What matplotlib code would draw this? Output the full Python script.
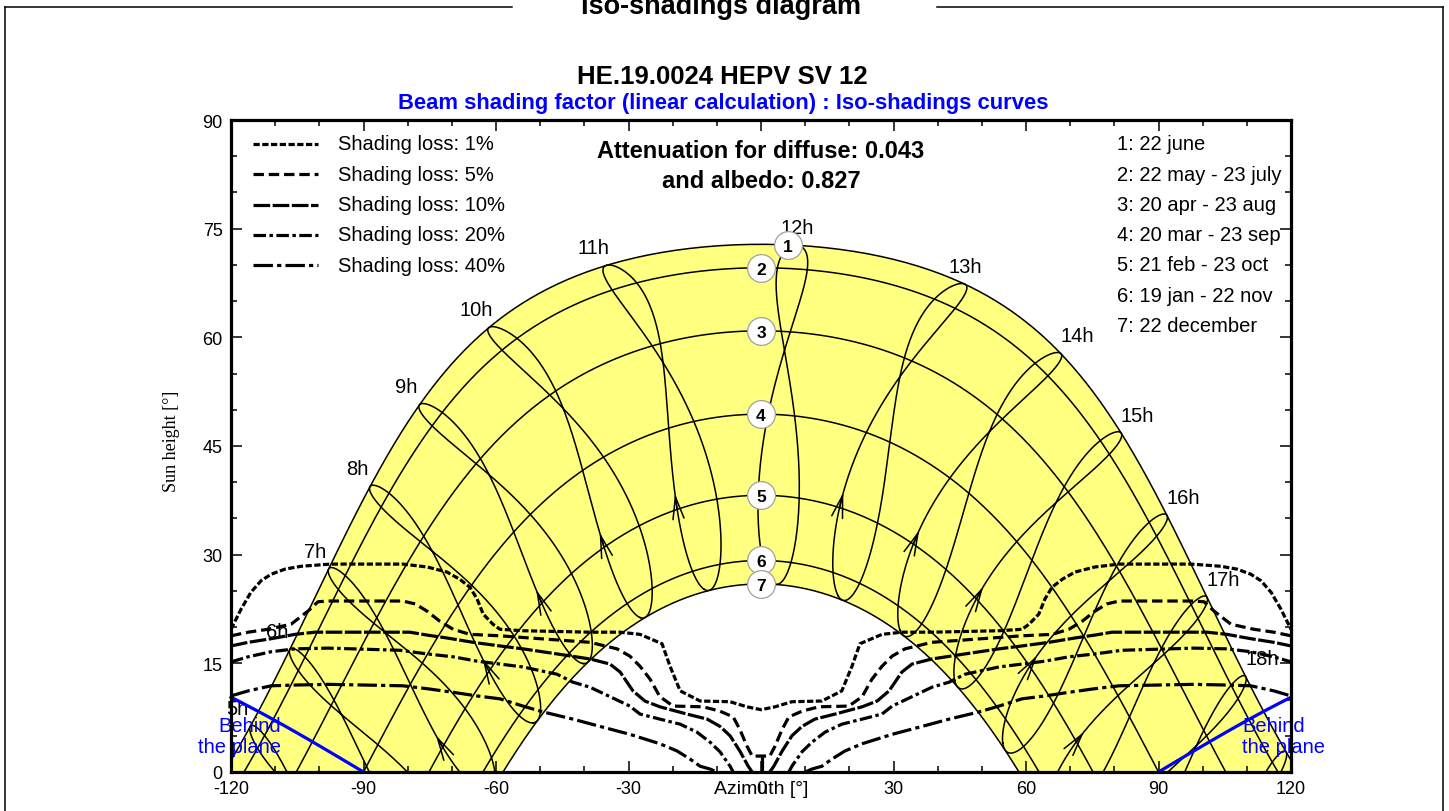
"""Iso-shadings diagram: sun paths (date lines + hour analemmas) with
iso-loss curves of the beam shading factor drawn on top."""
import numpy as np
import matplotlib
matplotlib.use('Agg')
import matplotlib.pyplot as plt
from matplotlib.lines import Line2D

plt.rcParams['font.family'] = ['Liberation Sans', 'DejaVu Sans']
plt.rcParams['lines.scale_dashes'] = False
plt.rcParams['axes.unicode_minus'] = False

W, H = 1449, 812

# ---- site / sun path ----
LAT = 40.6           # site latitude [deg N]
LON_SHIFT = 3.0      # site east of time-zone meridian [deg]
PLANE_TILT = 20.0    # tilt of the collector plane [deg]

DATE_NAMES = ['22 june', '22 may - 23 july', '20 apr - 23 aug',
              '20 mar - 23 sep', '21 feb - 23 oct', '19 jan - 22 nov',
              '22 december']
DATE_DECL = [23.44, 20.2, 11.5, 0.0, -11.2, -20.2, -23.44]
DATE_MARK_AZ = [6.1, 0, 0, 0, 0, 0, 0]
HOURS = list(range(5, 20))
ARROW_DAY = 57       # direction marks on the hour lines (26 feb)

# ---- iso-shading curves, east half (west half is its mirror) ----
LOSS_NAMES = ['Shading loss: 1%', 'Shading loss: 5%', 'Shading loss: 10%',
              'Shading loss: 20%', 'Shading loss: 40%']

LOSS1_AZ = [-120, -117.7, -115.5, -113.2, -110.9, -107.8, -104.1, -97.4, -81.1,
            -75.6, -71.1, -68.2, -65.9, -64.3, -62.9, -60.7, -59.1, -53.9, -38.7,
            -31.9, -27.4, -22.4, -20.6, -18.3, -13.8, -7.0, -3.2, 0]
LOSS1_EL = [19.7, 22.5, 24.8, 26.4, 27.3, 28.0, 28.4, 28.7, 28.7,
            28.3, 27.6, 26.6, 25.5, 23.9, 21.8, 20.4, 19.7, 19.5, 19.3,
            19.3, 19.0, 17.7, 14.6, 11.2, 9.8, 9.7, 9.0, 8.6]

LOSS5_AZ = [-120, -116.1, -111.6, -106.4, -102.6, -100.3, -98.0, -81.1, -78.3,
            -75.6, -72.7, -69.7, -65.9, -59.1, -38.7, -32.6, -29.7, -27.4, -25.1,
            -22.9, -19.9, -13.1, -9.3, -6.3, -4.8, -3.2, -2.0]
LOSS5_EL = [18.8, 19.3, 19.7, 20.4, 22.2, 23.5, 23.6, 23.6, 23.2,
            22.2, 20.8, 19.7, 19.0, 18.8, 17.9, 17.0, 16.0, 14.6, 12.8,
            10.4, 9.1, 9.0, 8.4, 7.6, 5.9, 3.6, 2.2]

LOSS10_AZ = [-120, -116.1, -110.9, -105.5, -101.0, -79.5, -75.6, -71.1, -65.2,
             -59.1, -53.9, -46.2, -38.7, -34.2, -31.9, -29.0, -26.3, -22.9, -16.8,
             -12.2, -9.3, -7.0, -4.8, -2.9, -2.0]
LOSS10_EL = [17.4, 17.9, 18.4, 19.0, 19.3, 19.3, 18.9, 18.5, 17.9,
             17.4, 17.0, 16.3, 15.6, 14.9, 13.8, 11.2, 9.8, 9.0, 8.0,
             7.3, 6.3, 5.0, 2.9, 0.8, 0.0]

LOSS20_AZ = [-120, -116.1, -110.9, -105.5, -98.0, -81.7, -75.6, -69.7, -64.3,
             -59.1, -53.9, -46.2, -42.6, -38.7, -34.2, -29.7, -27.4, -22.9, -18.3,
             -14.5, -11.5, -9.3, -7.0, -6.3]
LOSS20_EL = [15.2, 15.9, 16.6, 17.0, 17.1, 16.8, 16.3, 15.9, 15.3,
             14.9, 14.5, 13.5, 12.4, 11.7, 10.4, 9.1, 8.0, 7.3, 6.6,
             5.5, 4.1, 2.8, 0.8, 0.0]

LOSS40_AZ = [-120, -116.1, -110.9, -105.5, -98.0, -81.1, -75.6, -69.7, -64.3,
             -59.1, -53.9, -49.4, -42.6, -36.5, -29.7, -22.9, -19.0, -16.1, -13.8,
             -11.5, -10.0]
LOSS40_EL = [10.5, 11.2, 11.9, 12.0, 12.1, 11.9, 11.5, 11.0, 10.5,
             10.1, 9.1, 8.3, 7.3, 6.3, 5.2, 3.9, 2.9, 1.8, 0.8,
             0.4, 0.0]

LOSS5_NOTCH_EL = 2.2   # the 5% curve drops to the horizon at azimuth 0

LOSS_STYLES = [(0, (4.5, 1.8)), (0, (7.5, 3.5)), (0, (12, 1.8)),
               (0, (9, 2.5, 2.5, 2.5)), (0, (14, 3, 3, 3))]

ATTENUATION_DIFFUSE = 0.043
ATTENUATION_ALBEDO = 0.827

YELLOW = '#ffff80'
BLUE = '#0000ff'


def sun_pos(hour_angle, decl):
    """Azimuth (from south, + west) and height of the sun, degrees."""
    lat = np.radians(LAT)
    ha = np.radians(hour_angle)
    d = np.radians(decl)
    sin_h = np.sin(lat) * np.sin(d) + np.cos(lat) * np.cos(d) * np.cos(ha)
    el = np.degrees(np.arcsin(np.clip(sin_h, -1, 1)))
    az = np.degrees(np.arctan2(np.sin(ha),
                               np.sin(lat) * np.cos(ha) - np.cos(lat) * np.tan(d)))
    return az, el


def date_line(decl, n=400):
    h0 = np.degrees(np.arccos(np.clip(-np.tan(np.radians(LAT)) * np.tan(np.radians(decl)), -1, 1)))
    return sun_pos(np.linspace(-h0, h0, n), decl)


def year_terms(day):
    """Spencer: declination [deg] and equation of time [min]."""
    b = 2 * np.pi * (np.asarray(day, float) - 1) / 365.0
    decl = (0.006918 - 0.399912 * np.cos(b) + 0.070257 * np.sin(b)
            - 0.006758 * np.cos(2 * b) + 0.000907 * np.sin(2 * b)
            - 0.002697 * np.cos(3 * b) + 0.00148 * np.sin(3 * b))
    eot = 229.18 * (0.000075 + 0.001868 * np.cos(b) - 0.032077 * np.sin(b)
                    - 0.014615 * np.cos(2 * b) - 0.040849 * np.sin(2 * b))
    return np.degrees(decl), eot


def hour_line(hour, day):
    decl, eot = year_terms(day)
    ha = 15.0 * (hour - 12) + LON_SHIFT + eot / 4.0
    return sun_pos(ha, decl)


def fx(px):
    return px / W


def fy(py):
    return 1 - py / H


fig = plt.figure(figsize=(W / 100, H / 100), dpi=100)
ax = fig.add_axes([fx(231), fy(773), fx(1291) - fx(231), fy(121) - fy(773)])
ax.set_xlim(-120, 120)
ax.set_ylim(0, 90)

# yellow band between the solstices
az_j, el_j = date_line(DATE_DECL[0])
az_d, el_d = date_line(DATE_DECL[-1])
ax.fill(np.r_[az_j, az_d[::-1]], np.r_[el_j, el_d[::-1]],
        color=YELLOW, lw=0, zorder=1)

# date lines
for decl in DATE_DECL:
    a, e = date_line(decl)
    ax.plot(a, e, color='black', lw=1.1, zorder=2)

# hour lines (analemmas) with direction marks
days = np.arange(1, 367)
for hr in HOURS:
    a, e = hour_line(hr, days)
    ax.plot(a, e, color='black', lw=1.1, zorder=2)
    ta, te = hour_line(hr, ARROW_DAY)
    sa, se = hour_line(hr, ARROW_DAY - 6)
    if te > 0.5 and abs(ta) < 119:
        ax.annotate('', xy=(ta, te), xytext=(sa, se),
                    arrowprops=dict(arrowstyle='->,head_length=1.0,head_width=0.25',
                                    mutation_scale=16, lw=1.1, color='black',
                                    shrinkA=0, shrinkB=0), zorder=2)
    # hour label above the 22 june point
    ja, je = hour_line(hr, 173)
    if abs(ja) < 118 and je > 0:
        dx = 0 if hr in (12, 13) else (-13 if hr < 12 else 16)
        ax.annotate(f'{hr}h', xy=(ja, je), xytext=(dx, 18),
                    textcoords='offset pixels', ha='center', va='center',
                    fontsize=14.5, zorder=3)

# "behind the plane" limit of the tilted collector
for side in (-1, 1):
    az_b = side * np.linspace(90, 120, 40)
    el_b = np.degrees(np.arctan(-np.tan(np.radians(PLANE_TILT)) * np.cos(np.radians(az_b))))
    ax.plot(az_b, el_b, color=BLUE, lw=2.3, zorder=4, clip_on=False)
ax.text(-108.7, 5.0, 'Behind\nthe plane', ha='right', va='center',
        color=BLUE, fontsize=14.5, linespacing=1.1, zorder=5)
ax.text(108.9, 5.0, 'Behind\nthe plane', ha='left', va='center',
        color=BLUE, fontsize=14.5, linespacing=1.1, zorder=5)

# iso-shading curves
loss_curves = [(LOSS1_AZ, LOSS1_EL, True), (LOSS5_AZ, LOSS5_EL, True),
               (LOSS10_AZ, LOSS10_EL, False), (LOSS20_AZ, LOSS20_EL, False),
               (LOSS40_AZ, LOSS40_EL, False)]
for (az, el, joined), ls in zip(loss_curves, LOSS_STYLES):
    az = np.asarray(az, float)
    el = np.asarray(el, float)
    kw = dict(color='black', lw=2.3, linestyle=ls, zorder=4,
              dash_capstyle='butt')
    if joined:
        keep = az < 0
        ax.plot(np.r_[az, -az[keep][::-1]], np.r_[el, el[keep][::-1]], **kw)
    else:
        ax.plot(az, el, **kw)
        ax.plot(-az[::-1], el[::-1], **kw)
ax.plot([0.2, 0.2], [LOSS5_NOTCH_EL, 0], color='black', lw=2.3, zorder=4)

# numbered date markers
for i, (decl, maz) in enumerate(zip(DATE_DECL, DATE_MARK_AZ)):
    a, e = date_line(decl)
    me = np.interp(maz, a, e)
    ax.plot(maz, me, 'o', ms=20, mfc='white', mec='#a0a0a0', mew=0.9, zorder=6)
    ax.text(maz, me, str(i + 1), ha='center', va='center_baseline',
            fontsize=12.5, fontweight='bold', zorder=7)

# axes styling
ax.set_xticks(np.arange(-120, 121, 30))
ax.set_xticks(np.arange(-120, 121, 10), minor=True)
ax.set_yticks(np.arange(0, 91, 15))
ax.set_yticks(np.arange(0, 91, 5), minor=True)
ax.tick_params(which='both', direction='in', top=True, right=True,
               labelsize=13, width=1.1)
ax.tick_params(which='major', length=8, pad=6)
ax.tick_params(which='minor', length=4)
for sp in ax.spines.values():
    sp.set_linewidth(2.3)
    sp.set_zorder(8)

fig.text(fx(761), fy(790), 'Azimuth [°]', ha='center', va='center', fontsize=14)
fig.text(fx(172), fy(441), 'Sun height [°]', ha='center', va='center',
         rotation=90, fontsize=13, family=['Liberation Serif', 'DejaVu Serif'])

# titles and frame
fig.text(fx(721), fy(14), 'Iso-shadings diagram', ha='center', va='baseline',
         fontsize=19.5, fontweight='bold')
fig.text(fx(722), fy(77), 'HE.19.0024 HEPV SV 12', ha='center', va='center',
         fontsize=18.5, fontweight='bold')
fig.text(fx(723), fy(103), 'Beam shading factor (linear calculation) : Iso-shadings curves',
         ha='center', va='center', fontsize=15.8, fontweight='bold', color=BLUE)
for xs, ys in [([5, 512], [8, 8]), ([937, 1443], [8, 8]),
               ([5, 5], [8, 812]), ([1443, 1443], [8, 812])]:
    fig.add_artist(Line2D([fx(x) for x in xs], [fy(y) for y in ys],
                          transform=fig.transFigure, color='black', lw=1.1))

fig.text(fx(761), fy(152),
         f'Attenuation for diffuse: {ATTENUATION_DIFFUSE:.3f}',
         ha='center', va='center', fontsize=17, fontweight='bold')
fig.text(fx(761), fy(182), f'and albedo: {ATTENUATION_ALBEDO:.3f}',
         ha='center', va='center', fontsize=17, fontweight='bold')

# legend of the iso-shading curves
for i, (name, ls) in enumerate(zip(LOSS_NAMES, LOSS_STYLES)):
    y = 145 + 30.3 * i
    fig.add_artist(Line2D([fx(253), fx(318)], [fy(y), fy(y)],
                          transform=fig.transFigure, color='black', lw=2.3,
                          linestyle=ls, dash_capstyle='butt'))
    fig.text(fx(338), fy(y), name, ha='left', va='center', fontsize=14.5)

# list of date lines
for i, name in enumerate(DATE_NAMES):
    fig.text(fx(1117), fy(145 + 30.2 * i), f'{i + 1}: {name}',
             ha='left', va='center', fontsize=14.5)

fig.savefig('out.png', dpi=100)
